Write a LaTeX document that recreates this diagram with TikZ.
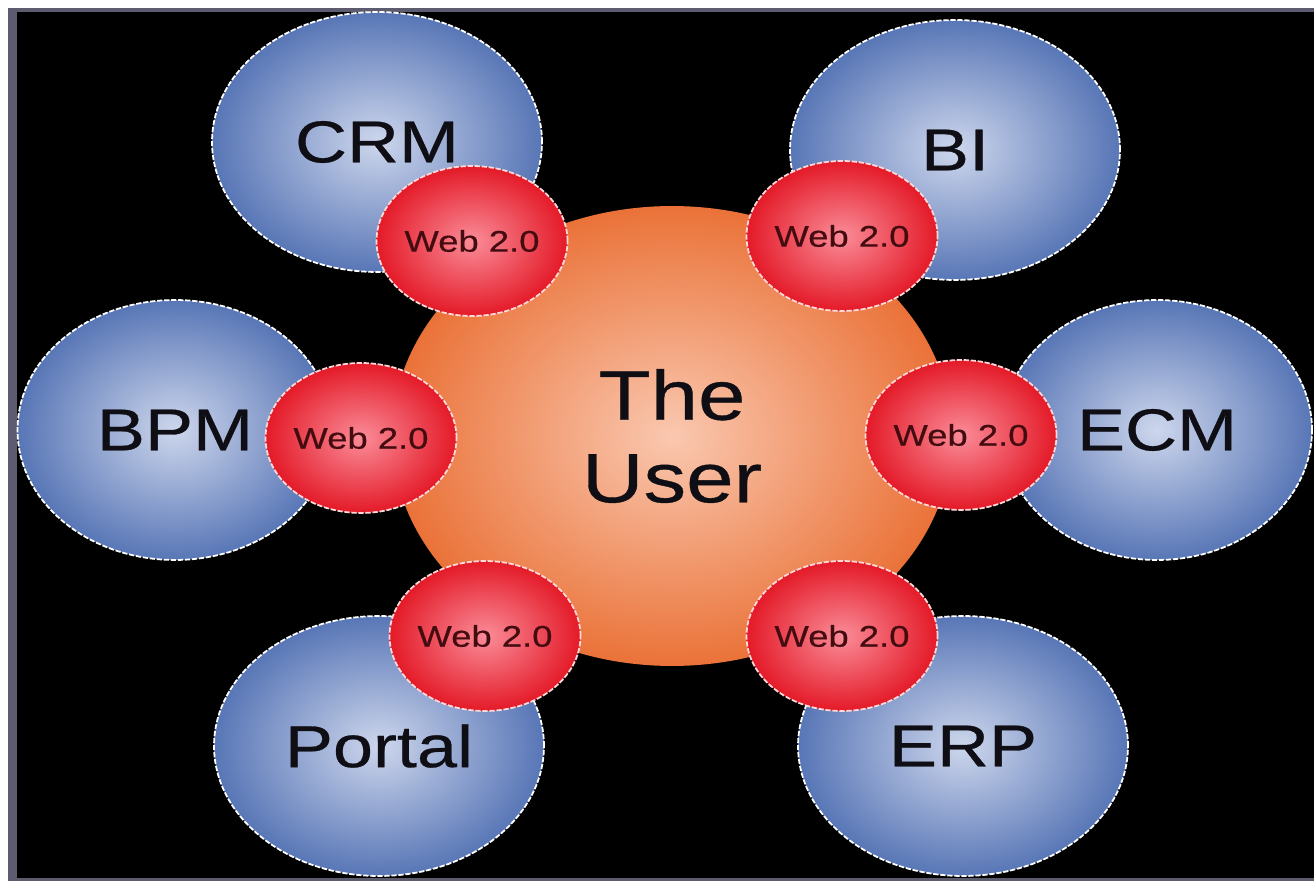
\documentclass[tikz,border=0pt]{standalone}
\usepackage{fontspec}
\usetikzlibrary{shapes.geometric}
\newfontfamily\diagfont[FakeStretch=1.22,FakeBold=0.5]{Liberation Sans}
\definecolor{appout}{RGB}{88,118,182}
\definecolor{appin}{RGB}{205,214,236}
\definecolor{userout}{RGB}{234,114,56}
\definecolor{userin}{RGB}{250,200,176}
\definecolor{webout}{RGB}{228,26,40}
\definecolor{webin}{RGB}{250,140,152}
\definecolor{frame}{RGB}{92,92,110}
\definecolor{ink}{RGB}{14,14,20}
\definecolor{webink}{RGB}{66,12,16}

\tikzset{
  app/.style={ellipse, inner sep=0pt, minimum width=6.6cm, minimum height=5.2cm,
    draw=white, line width=1pt, dash pattern=on 3pt off 1pt,
    inner color=appin, outer color=appout, text=ink,
    font=\diagfont\fontsize{33.6}{40}\selectfont},
  user/.style={ellipse, inner sep=0pt, minimum width=11.2cm, minimum height=9.2cm,
    inner color=userin, outer color=userout, text=ink, align=center,
    font=\diagfont\fontsize{39.8}{47}\selectfont},
  web/.style={ellipse, inner sep=0pt, minimum width=3.5cm, minimum height=3.0cm,
    draw=white!85!red, line width=1pt, dash pattern=on 3pt off 1pt,
    inner color=webin, outer color=webout, text=webink,
    font=\diagfont\fontsize{17}{20}\selectfont}
}

\begin{document}
\begin{tikzpicture}[x=0.02cm, y=-0.02cm]
\useasboundingbox (0,0) rectangle (1314,881);
% frame and black ground
\fill[white] (0,0) rectangle (1314,881);
\fill[frame] (8,8) rectangle (1314,881);
\fill[black] (17,12) rectangle (1314,878);

% the applications
\node[app] (crm) at (377,142) {CRM};
\node[app] (bi) at (955,150) {BI};
\node[app, minimum width=6.3cm] (bpm) at (175,430) {BPM};
\node[app, minimum width=6.2cm] (ecm) at (1157,430) {ECM};
\node[app] (portal) at (379,746) {Portal};
\node[app] (erp) at (963,746) {ERP};

% the user in the middle
\node[user] (user) at (672,436) {The\\User};

% web 2.0 links
\node[web] (wcrm) at (472,241) {Web 2.0};
\node[web] (wbi) at (842,236) {Web 2.0};
\node[web] (wbpm) at (361,438) {Web 2.0};
\node[web] (wecm) at (961,435) {Web 2.0};
\node[web] (wportal) at (485,636) {Web 2.0};
\node[web] (werp) at (842,636) {Web 2.0};
\end{tikzpicture}
\end{document}
